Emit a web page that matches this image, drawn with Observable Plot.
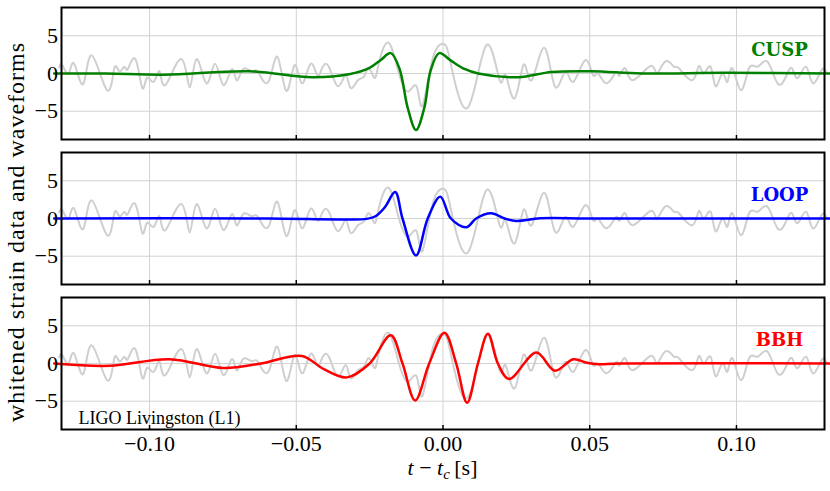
<!DOCTYPE html>
<html><head><meta charset="utf-8">
<script src="https://cdn.jsdelivr.net/npm/d3@7"></script>
<script src="https://cdn.jsdelivr.net/npm/@observablehq/plot@0.6"></script>
<style>
body{margin:0;background:#fff}
#chart{width:830px;height:491px}
</style>
</head><body><div id="chart"></div>
<script>
const panels = ["CUSP", "LOOP", "BBH"];
const panelColors = ["#008000", "#0000ff", "#ff0000"];
const xTicks = [-0.10, -0.05, 0, 0.05, 0.10];
const yTicks = [-5, 0, 5];
const detectorLabel = "LIGO Livingston (L1)";
const yLabel = "whitened strain data and waveforms";

// whitened strain data (gray), shared by every panel
const strainT = [-0.1308, -0.1297, -0.1276, -0.1257, -0.1226, -0.1197, -0.1145, -0.1120, -0.1103, -0.1086,
  -0.1074, -0.1048, -0.1025, -0.1009, -0.0986, -0.0966, -0.0945, -0.0891, -0.0863, -0.0840,
  -0.0806, -0.0777, -0.0749, -0.0720, -0.0703, -0.0681, -0.0652, -0.0630, -0.0595, -0.0564,
  -0.0534, -0.0506, -0.0481, -0.0452, -0.0429, -0.0412, -0.0389, -0.0358, -0.0332, -0.0315,
  -0.0290, -0.0269, -0.0252, -0.0233, -0.0218, -0.0187, -0.0155, -0.0121, -0.0090, -0.0070,
  -0.0035, 0.0003, 0.0027, 0.0085, 0.0147, 0.0193, 0.0213, 0.0244, 0.0275, 0.0302,
  0.0345, 0.0381, 0.0416, 0.0444, 0.0484, 0.0511, 0.0528, 0.0558, 0.0590, 0.0601,
  0.0621, 0.0647, 0.0707, 0.0729, 0.0758, 0.0787, 0.0804, 0.0849, 0.0872, 0.0889,
  0.0912, 0.0929, 0.0952, 0.0969, 0.0986, 0.1015, 0.1043, 0.1072, 0.1106, 0.1140,
  0.1169, 0.1189, 0.1209, 0.1237, 0.1260, 0.1289, 0.1306];
const strainV = [0.8, 1.1, 0.0, 1.3, -1.4, 2.4, -2.2, 0.7, 0.3, 0.9,
  0.6, 1.9, -1.9, -0.6, -1.1, 0.3, -1.5, 1.9, -1.85, 1.9,
  -1.3, 1.3, -1.5, 0.55, -0.9, 0.6, 0.3, 0.2, -1.1, 2.2,
  -2.3, 1.1, -1.3, 1.25, -0.2, 0.7, 0.9, -1.7, -0.2, -1.9,
  -0.9, -0.4, 0.7, -0.6, 1.5, 4.1, 0.7, -2.4, -1.7, -4.3,
  2.0, 3.9, 1.2, -4.5, 3.7, -0.9, -0.2, -3.3, 1.2, -0.9,
  3.4, -1.7, 0.2, -1.1, 1.75, -0.2, 0.0, -1.3, 0.2, -0.3,
  0.7, -0.9, 1.0, 0.0, 1.6, 0.9, 0.7, -0.9, 1.0, 0.0,
  0.9, -1.7, 0.0, -1.1, 0.7, -2.2, 0.7, 0.9, 1.55, -1.3,
  -0.4, 0.7, -0.6, 0.9, -1.3, 0.4, 0.2];

// CUSP waveform (green)
const cuspT = [-0.1325, -0.115, -0.095, -0.066, -0.0446, -0.032, -0.0252, -0.0212, -0.0178, -0.0148,
  -0.0120, -0.0092, -0.0064, -0.0042, -0.0013, 0.0027, 0.0073, 0.012, 0.0256, 0.037,
  0.0507, 0.0678, 0.0963, 0.1325];
const cuspV = [0, 0, -0.15, 0.3, -0.5, -0.1, 0.7, 1.8, 2.7, 0.6,
  -4.6, -7.5, -4.6, 0.4, 2.7, 1.7, 0.6, 0.0, -0.5, 0.2,
  0.3, 0, 0.1, 0];

// LOOP waveform (blue)
const loopT = [-0.1325, -0.06, -0.035, -0.0260, -0.0230, -0.0198, -0.0163, -0.0138, -0.0092, -0.0052,
  -0.0009, 0.0027, 0.0079, 0.0113, 0.0164, 0.021, 0.025, 0.0331, 0.05, 0.1325];
const loopV = [0, 0, -0.12, -0.05, 0.3, 1.5, 3.5, 0, -4.9, 0,
  2.9, 0, -1.16, 0, 0.68, 0, -0.33, 0.02, 0, 0];

// BBH waveform (red)
const bbhT = [-0.1325, -0.1137, -0.0932, -0.0749, -0.062, -0.0481, -0.0406, -0.0327, -0.0250, -0.0178,
  -0.0138, -0.0095, -0.0047, 0.0005, 0.0045, 0.0082, 0.0119, 0.0153, 0.0187, 0.0225,
  0.0318, 0.0381, 0.0444, 0.049, 0.053, 0.06, 0.1325];
const bbhV = [0, -0.3, 0.57, -0.6, 0, 1.0, -0.75, -1.84, 0, 3.73,
  0, -4.9, 0, 4.08, 0, -5.2, 0, 3.95, 0, -2.06,
  1.45, -0.96, 0.57, 0.1, -0.1, 0, 0];

const zip = (T, V) => T.map((t, i) => ({t, v: V[i]}));
const strain = zip(strainT, strainV);
const waves = [zip(cuspT, cuspV), zip(loopT, loopV), zip(bbhT, bbhV)];

const serif = "Liberation Serif";

const marks = [
  Plot.gridX(xTicks, {stroke: "#d2d2d2", strokeOpacity: 1, strokeWidth: 1}),
  Plot.gridY(yTicks, {stroke: "#d2d2d2", strokeOpacity: 1, strokeWidth: 1}),
  Plot.line(strain, {x: "t", y: "v", stroke: "#cfcfcf", strokeWidth: 2, curve: "natural"})
];
panels.forEach((p, i) => {
  marks.push(Plot.line(waves[i], {x: "t", y: "v", fy: () => p, stroke: panelColors[i], strokeWidth: 2.5, curve: "catmull-rom"}));
  marks.push(Plot.text([p], {fy: d => d, text: d => d, frameAnchor: "top-right", dx: -45, dy: 36,
    textAnchor: "middle", lineAnchor: "top", fill: panelColors[i], fontSize: 18, fontWeight: "bold",
    fontFamily: "DejaVu Serif", ariaLabel: "panel-label"}));
});
marks.push(
  Plot.frame({stroke: "black", strokeWidth: 2}),
  Plot.axisX({ticks: xTicks, tickSize: -4, tickFormat: () => "", label: null, facetAnchor: null, strokeWidth: 1.5}),
  Plot.axisX({ticks: xTicks, tickSize: 0, tickPadding: 6, tickFormat: d3.format(".2f"), label: null, fontSize: 22, fontFamily: serif}),
  Plot.axisY({ticks: yTicks, tickSize: 0, tickPadding: 3.5, tickFormat: d3.format("d"), label: null, fontSize: 22, fontFamily: serif}),
  Plot.text([detectorLabel], {fy: () => "BBH", text: d => d, frameAnchor: "bottom-left", dx: 17, dy: -6,
    textAnchor: "start", lineAnchor: "bottom", fontSize: 18, fill: "black", fontFamily: serif, ariaLabel: "detector-label"})
);

const svg = Plot.plot({
  width: 830, height: 491,
  marginTop: 6, marginBottom: 60, marginLeft: 61, marginRight: 6,
  style: {fontFamily: serif, fontSize: "22px"},
  x: {domain: [-0.13, 0.13]},
  y: {domain: [-8.75, 8.75]},
  fy: {domain: panels, paddingInner: 0.089, paddingOuter: 0, axis: null},
  marks
});

const s = d3.select(svg);

s.append("text")
  .attr("transform", "translate(23.5,232.5) rotate(-90)")
  .attr("text-anchor", "middle")
  .attr("font-size", 24)
  .attr("font-family", serif)
  .attr("fill", "black")
  .attr("textLength", 379)
  .attr("lengthAdjust", "spacing")
  .text(yLabel);

const xl = s.append("text")
  .attr("x", 442.5).attr("y", 475)
  .attr("text-anchor", "middle")
  .attr("font-size", 22)
  .attr("font-family", serif)
  .attr("fill", "black");
xl.append("tspan").attr("font-style", "italic").text("t");
xl.append("tspan").text(" \u2212 ");
xl.append("tspan").attr("font-style", "italic").text("t");
xl.append("tspan").attr("font-style", "italic").attr("font-size", 15).attr("dy", 4).text("c");
xl.append("tspan").attr("dy", -4).text("\u2009[s]");

document.getElementById("chart").appendChild(svg);
</script>
</body></html>
